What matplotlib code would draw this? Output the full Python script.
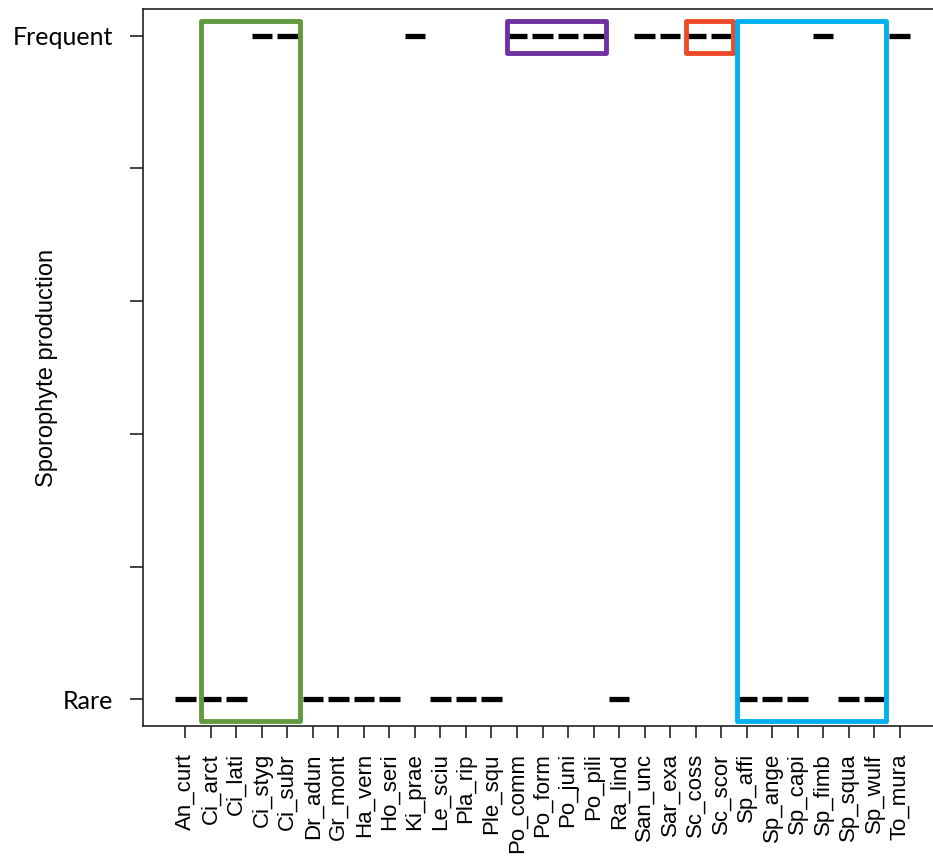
import matplotlib.pyplot as plt
from matplotlib.patches import Rectangle

# species codes along the x axis
species = ["An_curt", "Ci_arct", "Ci_lati", "Ci_styg", "Ci_subr", "Dr_adun",
           "Gr_mont", "Ha_vern", "Ho_seri", "Ki_prae", "Le_sciu", "Pla_rip",
           "Ple_squ", "Po_comm", "Po_form", "Po_juni", "Po_pili", "Ra_lind",
           "San_unc", "Sar_exa", "Sc_coss", "Sc_scor", "Sp_affi", "Sp_ange",
           "Sp_capi", "Sp_fimb", "Sp_squa", "Sp_wulf", "To_mura"]

# sporophyte production score: 1 = rare, 6 = frequent
production = [1, 1, 1, 6, 6, 1,
              1, 1, 1, 6, 1, 1,
              1, 6, 6, 6, 6, 1,
              6, 6, 6, 6, 1, 1,
              1, 6, 1, 1, 6]

y_ticks = [1, 2, 3, 4, 5, 6]
y_tick_labels = ["Rare", "", "", "", "", "Frequent"]

# highlighted groups: (first species, last species, colour, height)
groups = [("Ci_arct", "Ci_subr", "#629a40", "full"),
          ("Po_comm", "Po_pili", "#7030a0", "top"),
          ("Sc_coss", "Sc_scor", "#ee4a28", "top"),
          ("Sp_affi", "Sp_wulf", "#00b0f0", "full")]

fig = plt.figure(figsize=(9.33, 8.58), dpi=100)
ax = fig.add_axes([143 / 933, 1 - 726 / 858, (942 - 143) / 933, (726 - 9) / 858])

x = list(range(1, len(species) + 1))
ax.hlines(production, [i - 0.4 for i in x], [i + 0.4 for i in x],
          color="black", linewidth=3.8, zorder=3)

for first, last, col, span in groups:
    i0 = species.index(first) + 1
    i1 = species.index(last) + 1
    left = i0 - 0.38
    right = i1 + 0.48
    top = 6.106
    bottom = 0.837 if span == "full" else 5.866
    ax.add_patch(Rectangle((left, bottom), right - left, top - bottom,
                           fill=False, edgecolor=col, linewidth=3.5,
                           joinstyle="round", zorder=4))

ax.set_xlim(-0.66, 30.66)
ax.set_ylim(0.8, 6.2)
ax.set_xticks(x)
ax.set_xticklabels(species, rotation=90, fontsize=16, family="Liberation Sans")
ax.set_yticks(y_ticks)
ax.set_yticklabels(y_tick_labels, fontsize=18, family="Lato")
ax.tick_params(axis="y", length=9.4, width=1.2, pad=12, color="#222222")
ax.tick_params(axis="x", length=8.6, width=1.2, pad=11, color="#222222")
for s in ax.spines.values():
    s.set_linewidth(1.2)
    s.set_color("#222222")

fig.text(47 / 933, 1 - 368 / 858, "Sporophyte production", rotation=90,
         fontsize=17, family="Liberation Sans", ha="center", va="center")

fig.savefig("out.png", dpi=100)
